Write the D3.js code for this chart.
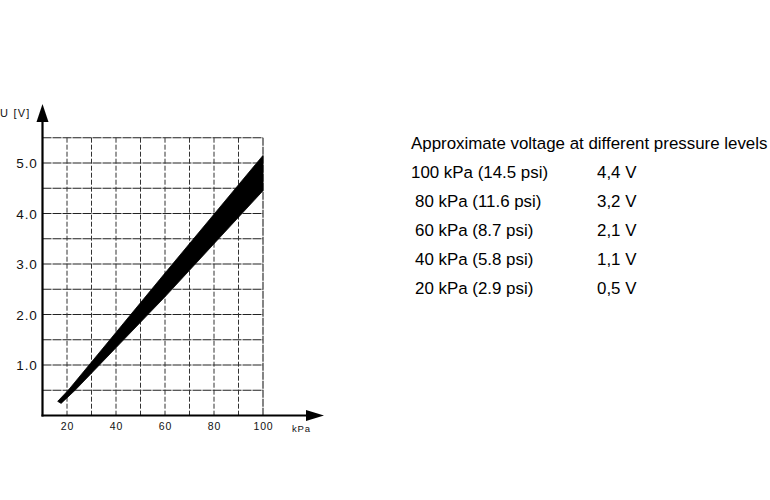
<!DOCTYPE html>
<html>
<head>
<meta charset="utf-8">
<script src="https://cdn.jsdelivr.net/npm/d3@7"></script>
<style>
  html, body { margin: 0; padding: 0; background: #fff; }
  svg { display: block; }
</style>
</head>
<body>
<svg id="chart" width="770" height="500"></svg>
<script>
// ---- data ----
const xTicks = [20, 40, 60, 80, 100];
const yTicks = [1, 2, 3, 4, 5];
const xGrid = [20, 30, 40, 50, 60, 70, 80, 90, 100];
const yGrid = [0.5, 1, 1.5, 2, 2.5, 3, 3.5, 4, 4.5, 5, 5.5];
// upper and lower edges of the voltage band (kPa, V)
const bandUpper = [[16.2,0.28],[20.5,0.5],[60,2.82],[100,5.15]];
const bandLower = [[17.6,0.24],[23.3,0.5],[60,2.35],[100,4.45]];
const tableTitle = "Approximate voltage at different pressure levels";
const pressures = ["100 kPa (14.5 psi)", "80 kPa (11.6 psi)", "60 kPa (8.7 psi)", "40 kPa (5.8 psi)", "20 kPa (2.9 psi)"];
const voltages = ["4,4 V", "3,2 V", "2,1 V", "1,1 V", "0,5 V"];

// ---- chart ----
const svg = d3.select("#chart");
const x = d3.scaleLinear().domain([10, 100]).range([42.5, 263]);
const y = d3.scaleLinear().domain([0, 5.5]).range([415.5, 137.7]);
const font = "'Liberation Sans', Arial, Helvetica, sans-serif";

// grid
svg.append("g").selectAll("line").data(yGrid).join("line")
  .attr("x1", x(10)).attr("x2", x(100))
  .attr("y1", d => y(d)).attr("y2", d => y(d))
  .attr("stroke", "#222").attr("stroke-width", 1.1)
  .attr("stroke-dasharray", "9,1");
svg.append("g").selectAll("line").data(xGrid).join("line")
  .attr("x1", d => x(d)).attr("x2", d => x(d))
  .attr("y1", y(5.5)).attr("y2", y(0))
  .attr("stroke", "#333").attr("stroke-width", d => d === 100 ? 1.2 : 1)
  .attr("stroke-dasharray", d => d === 100 ? "8,1" : "5,2");

// band
const bandPts = bandUpper.concat(bandLower.slice().reverse());
svg.append("path")
  .attr("d", d3.line().x(d => x(d[0])).y(d => y(d[1])).curve(d3.curveLinearClosed)(bandPts))
  .attr("fill", "#000").attr("stroke", "#000").attr("stroke-width", 0.8)
  .attr("stroke-linejoin", "round");

// axes lines with arrows
const x0 = x(10), y0 = y(0);
svg.append("line").attr("x1", x0).attr("x2", x0).attr("y1", y0 + 1).attr("y2", 118)
  .attr("stroke", "#000").attr("stroke-width", 2.2);
svg.append("path").attr("d", `M${x0},104 L${x0 - 6},122 L${x0 + 6},122 Z`).attr("fill", "#000");
svg.append("line").attr("x1", x0 - 1).attr("x2", 310).attr("y1", y0).attr("y2", y0)
  .attr("stroke", "#000").attr("stroke-width", 2.2);
svg.append("path").attr("d", `M324,${y0} L306,${y0 - 5.5} L306,${y0 + 5.5} Z`).attr("fill", "#000");

// tick labels via d3 axes
const yAxis = svg.append("g").attr("transform", `translate(${x0 - 5},0)`)
  .call(d3.axisLeft(y).tickValues(yTicks).tickFormat(d3.format(".1f")).tickSize(0).tickPadding(0));
yAxis.select(".domain").remove();
yAxis.selectAll("text").attr("font-family", font).attr("font-size", 13.5)
  .attr("letter-spacing", 0.8).attr("fill", "#111").attr("dy", "0.36em");

const xAxis = svg.append("g").attr("transform", `translate(0,${y0 + 6})`)
  .call(d3.axisBottom(x).tickValues(xTicks).tickSize(0).tickPadding(0));
xAxis.select(".domain").remove();
xAxis.selectAll("text").attr("font-family", font).attr("font-size", 10.5)
  .attr("letter-spacing", 0.8).attr("fill", "#111").attr("dy", "0.8em");

// axis titles
svg.append("text").attr("x", 0).attr("y", 117).text("U [V]")
  .attr("font-family", font).attr("font-size", 11).attr("letter-spacing", 1.2).attr("fill", "#111");
svg.append("text").attr("x", 292).attr("y", 432).text("kPa")
  .attr("font-family", font).attr("font-size", 9.5).attr("letter-spacing", 0.8).attr("fill", "#111");

// table
const tfs = 16.9;
svg.append("text").attr("x", 411).attr("y", 149).text(tableTitle)
  .attr("font-family", font).attr("font-size", tfs).attr("fill", "#000");
const rowY = i => 178 + i * 29;
svg.append("g").selectAll("text").data(pressures).join("text")
  .attr("x", (d, i) => i === 0 ? 411 : 415).attr("y", (d, i) => rowY(i)).text(d => d)
  .attr("font-family", font).attr("font-size", tfs).attr("fill", "#000");
svg.append("g").selectAll("text").data(voltages).join("text")
  .attr("x", 597).attr("y", (d, i) => rowY(i)).text(d => d)
  .attr("font-family", font).attr("font-size", tfs).attr("fill", "#000");
</script>
</body>
</html>
